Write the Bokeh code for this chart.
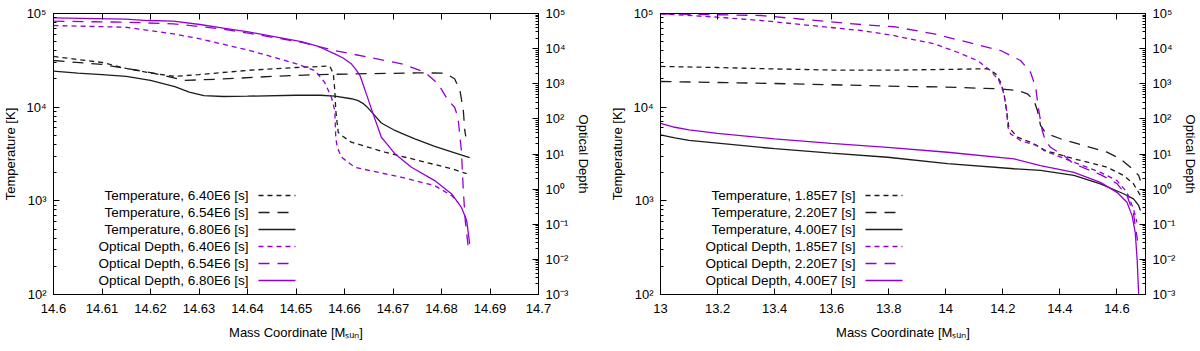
from bokeh.plotting import figure
from bokeh.layouts import row
from bokeh.models import (Range1d, LogScale, LogAxis, LinearAxis, FixedTicker, LogTicker,
                          CustomJSTickFormatter, Label, Arrow)
from bokeh.embed import file_html
from bokeh.resources import INLINE

# ---------------- data: left panel (times 6.40E6, 6.54E6, 6.80E6 s) ----------------
m_t_640 = [14.6, 14.605, 14.61, 14.615, 14.62, 14.625, 14.63, 14.64, 14.65, 14.6565, 14.657,
           14.6577, 14.658, 14.6582, 14.6587, 14.6594, 14.6614, 14.6683, 14.6752, 14.6821, 14.6852]
T_640 = [34800, 32300, 30000, 25900, 23200, 21300, 22300, 24700, 26500, 27400, 27200,
         22700, 15100, 9220, 5400, 4990, 4230, 3310, 2700, 2200, 1950]

m_t_654 = [14.6, 14.61, 14.615, 14.62, 14.627, 14.635, 14.645, 14.655, 14.665, 14.675, 14.6807,
           14.6827, 14.6838, 14.6845, 14.6848, 14.685]
T_654 = [31500, 28600, 25900, 23400, 19300, 20000, 21300, 22300, 22800, 23200, 23100,
         20100, 15100, 9220, 5640, 4870]

m_t_680 = [14.6, 14.605, 14.61, 14.615, 14.62, 14.625, 14.628, 14.631, 14.635, 14.64, 14.65,
           14.655, 14.658, 14.6614, 14.6627, 14.6639, 14.6647, 14.6656, 14.6676, 14.6704, 14.6718,
           14.6745, 14.6786, 14.6821, 14.6858]
T_680 = [24200, 23100, 22200, 21300, 19300, 16600, 14500, 13300, 13000, 13100, 13400,
         13400, 13100, 12300, 11800, 10900, 10000, 8850, 6780, 5640, 5240,
         4580, 3810, 3330, 2900]

m_tau_640 = [14.6, 14.6148, 14.6247, 14.6302, 14.6405, 14.649, 14.6511, 14.6539, 14.6559, 14.6573,
             14.658, 14.6582, 14.6585, 14.6594, 14.6621, 14.6718, 14.6786, 14.6821, 14.6834]
tau_640 = [45500, 40700, 26400, 19000, 8830, 4100, 3300, 2380, 1100, 412,
           172, 29.9, 15.5, 8.05, 4.18, 2.17, 1.26, 0.653, 0.421]

m_tau_654 = [14.6, 14.6148, 14.6247, 14.635, 14.6405, 14.6511, 14.658, 14.6649, 14.6718, 14.6766,
             14.6793, 14.6814, 14.6827, 14.6834, 14.6841, 14.6845, 14.6849, 14.6855]
tau_654 = [60400, 56500, 50900, 36000, 27000, 15200, 8830, 5690, 3690, 2130,
           993, 332, 214, 111, 12.5, 0.906, 0.127, 0.023]

m_tau_680 = [14.6, 14.6148, 14.6195, 14.6247, 14.6302, 14.635, 14.6405, 14.6455, 14.6511, 14.6546,
             14.658, 14.6597, 14.6614, 14.6623, 14.6632, 14.6645, 14.6659, 14.6676, 14.6687,
             14.6704, 14.6721, 14.6738, 14.6786, 14.6821, 14.6841, 14.6852, 14.6858]
tau_680 = [75300, 68800, 63100, 60400, 48600, 38600, 29300, 22100, 15900, 11500,
           7110, 5400, 3690, 2620, 1710, 516, 139, 29.9, 19.8,
           10.1, 6.48, 4.18, 1.75, 0.729, 0.303, 0.127, 0.0275]

# ---------------- data: right panel (times 1.85E7, 2.20E7, 4.00E7 s) ----------------
m_t_185 = [13.0, 13.2, 13.4, 13.6, 13.8, 14.0, 14.146, 14.175, 14.192, 14.204, 14.213, 14.221,
           14.251, 14.297, 14.349, 14.449, 14.565, 14.623, 14.658, 14.682]
T_185 = [27200, 26500, 25600, 24900, 24800, 25300, 25700, 22700, 18500, 13900, 9220, 6120,
         4790, 4230, 3450, 2810, 2290, 1870, 1520, 1140]

m_t_220 = [13.0, 13.4, 13.878, 14.0, 14.181, 14.251, 14.286, 14.309, 14.321, 14.332, 14.344,
           14.356, 14.402, 14.484, 14.565, 14.612, 14.647, 14.676, 14.682]
T_220 = [18800, 17900, 16600, 16400, 15700, 15100, 13900, 11800, 9220, 6390, 5640,
         5200, 4600, 3900, 3310, 2810, 2290, 1870, 1650]

m_t_400 = [13.0, 13.05, 13.1, 13.2, 13.4, 13.598, 13.796, 14.006, 14.239, 14.332, 14.449, 14.542,
           14.623, 14.658, 14.676, 14.682]
T_400 = [5070, 4710, 4420, 4130, 3600, 3230, 2920, 2490, 2200, 2110, 1870, 1520,
         1190, 1050, 893, 790]

m_tau_185 = [13.0, 13.2, 13.353, 13.528, 13.703, 13.82, 13.843, 13.959, 14.041, 14.111, 14.157,
             14.186, 14.204, 14.213, 14.218, 14.227, 14.262, 14.321, 14.344, 14.449, 14.542, 14.6,
             14.635, 14.658, 14.67]
tau_185 = [98000, 78500, 63200, 45500, 32800, 23600, 21100, 13700, 7890, 4580, 2380,
           1230, 516, 172, 57.7, 37.4, 24.1, 17.3, 12.5, 5.81, 3.01, 1.75,
           0.811, 0.273, 0.113]

m_tau_220 = [13.0, 13.353, 13.516, 13.703, 13.818, 13.959, 14.076, 14.192, 14.262, 14.297, 14.315,
             14.326, 14.338, 14.349, 14.367, 14.414, 14.449, 14.542, 14.6, 14.635, 14.658, 14.672]
tau_220 = [98000, 87700, 66200, 48600, 42000, 26400, 15200, 8830, 4580, 2130, 794,
           172, 46.5, 24.1, 15.5, 9.0, 5.22, 2.59, 1.44, 0.653, 0.2, 0.034]

m_tau_400 = [13.0, 13.05, 13.1, 13.2, 13.4, 13.598, 13.796, 14.006, 14.239, 14.332, 14.449, 14.542,
             14.6, 14.635, 14.653, 14.664, 14.671, 14.676]
tau_400 = [75, 57.7, 48.5, 38.9, 26.9, 20.2, 15.5, 11.2, 7.24, 4.67, 3.01, 1.56,
           0.811, 0.421, 0.176, 0.0588, 0.0091, 0.001]

# ---------------- ticks / labels ----------------
x_ticks_left = [14.6, 14.61, 14.62, 14.63, 14.64, 14.65, 14.66, 14.67, 14.68, 14.69, 14.7]
x_ticks_right = [13.0, 13.2, 13.4, 13.6, 13.8, 14.0, 14.2, 14.4, 14.6]
x_range_left = (14.6, 14.7)
x_range_right = (13.0, 14.7)
T_range = (1e2, 1e5)
tau_range = (1e-3, 1e5)

times_left = ["6.40E6", "6.54E6", "6.80E6"]
times_right = ["1.85E7", "2.20E7", "4.00E7"]

FONT = "Liberation Sans"
BLACK = "#1c1c1c"
PURPLE = "#9400D3"
DASH = ["5 4", "11 8", "solid"]

SUP_JS = """
const e = Math.round(Math.log10(tick));
const m = {'-':'\u207b','0':'\u2070','1':'\u00b9','2':'\u00b2','3':'\u00b3','4':'\u2074',
           '5':'\u2075','6':'\u2076','7':'\u2077','8':'\u2078','9':'\u2079'};
return '10' + String(e).split('').map(c => m[c]).join('');
"""
DEC_JS = "return String(parseFloat(tick.toFixed(3)));"


def style_axis(ax, standoff=7, label_standoff=6, minor=True):
    ax.major_tick_in = 6
    ax.major_tick_out = 0
    ax.minor_tick_in = 3 if minor else 0
    ax.minor_tick_out = 0
    ax.axis_line_color = "black"
    ax.major_tick_line_color = "black"
    ax.minor_tick_line_color = "black"
    ax.major_label_text_font = FONT
    ax.major_label_text_font_size = "13px"
    ax.major_label_text_color = "black"
    ax.major_label_standoff = standoff
    ax.axis_label_text_font = FONT
    ax.axis_label_text_font_size = "13px"
    ax.axis_label_text_font_style = "normal"
    ax.axis_label_text_color = "black"
    ax.axis_label_standoff = label_standoff


def make_panel(xr, xticks, T_series, tau_series, times, mb_left, mb_right):
    p = figure(frame_width=485, frame_height=281, x_range=Range1d(*xr),
               y_range=Range1d(*T_range), y_axis_type="log",
               output_backend="svg", toolbar_location=None,
               min_border_left=mb_left, min_border_right=mb_right,
               min_border_top=13, min_border_bottom=55)
    p.extra_y_ranges = {"tau": Range1d(*tau_range)}
    p.extra_y_scales = {"tau": LogScale()}
    p.grid.visible = False
    p.outline_line_color = "black"
    p.outline_line_width = 1
    p.background_fill_color = "white"
    p.border_fill_color = "white"

    xa = p.xaxis[0]
    xa.ticker = FixedTicker(ticks=xticks)
    xa.formatter = CustomJSTickFormatter(code=DEC_JS)
    xa.axis_label = "Mass Coordinate [M\u209b\u1d64\u2099]"
    style_axis(xa, standoff=9, label_standoff=9, minor=False)

    ya = p.yaxis[0]
    ya.ticker = LogTicker(num_minor_ticks=10)
    ya.formatter = CustomJSTickFormatter(code=SUP_JS)
    ya.axis_label = "Temperature [K]"
    style_axis(ya, standoff=7, label_standoff=5)

    ra = LogAxis(y_range_name="tau", ticker=LogTicker(num_minor_ticks=10),
                 formatter=CustomJSTickFormatter(code=SUP_JS), axis_label="Optical Depth")
    style_axis(ra, standoff=7, label_standoff=5)
    p.add_layout(ra, "right")

    ta = LinearAxis(ticker=FixedTicker(ticks=xticks), formatter=CustomJSTickFormatter(code="return '';"))
    style_axis(ta, standoff=0, minor=False)
    ta.major_label_text_font_size = "1px"
    p.add_layout(ta, "above")

    for (mx, vals), d in zip(T_series, DASH):
        p.line(mx, vals, line_color=BLACK, line_width=1.3, line_dash=d)
    for (mx, vals), d in zip(tau_series, DASH):
        p.line(mx, vals, line_color=PURPLE, line_width=1.3, line_dash=d, y_range_name="tau")

    rows_y = [99, 82, 65, 48, 31, 14]
    entries = [("Temperature, %s [s]" % t, BLACK, d) for t, d in zip(times, DASH)] + \
              [("Optical Depth, %s [s]" % t, PURPLE, d) for t, d in zip(times, DASH)]
    for (txt, col, d), yy in zip(entries, rows_y):
        p.add_layout(Label(x=195, y=yy, x_units="screen", y_units="screen", text=txt,
                           text_align="right", text_baseline="middle", text_font=FONT,
                           text_font_size="13.5px", text_color="black"))
        p.add_layout(Arrow(end=None, x_start=205, y_start=yy, x_end=242, y_end=yy,
                           start_units="screen", end_units="screen",
                           line_color=col, line_width=1.5, line_dash=d))
    return p


p1 = make_panel(x_range_left, x_ticks_left,
                [(m_t_640, T_640), (m_t_654, T_654), (m_t_680, T_680)],
                [(m_tau_640, tau_640), (m_tau_654, tau_654), (m_tau_680, tau_680)],
                times_left, 52, 62)
p2 = make_panel(x_range_right, x_ticks_right,
                [(m_t_185, T_185), (m_t_220, T_220), (m_t_400, T_400)],
                [(m_tau_185, tau_185), (m_tau_220, tau_220), (m_tau_400, tau_400)],
                times_right, 60, 54)

layout = row(p1, p2)
open("out.html", "w").write(file_html(layout, INLINE))
